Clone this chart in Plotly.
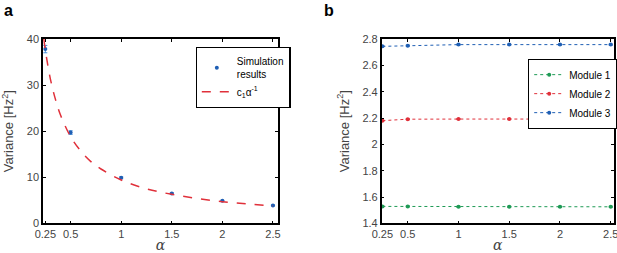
import plotly.graph_objects as go

# Panel a data
alpha = [0.25, 0.5, 1.0, 1.5, 2.0, 2.5]
sim_var = [37.8, 19.7, 9.9, 6.5, 4.9, 3.9]
sim_err = [0.8, 0.4, 0.2, 0.15, 0.1, 0.1]
fit_alpha = [0.235, 0.25, 0.3, 0.35, 0.4, 0.5, 0.6, 0.7, 0.8, 1.0, 1.25, 1.5, 1.75, 2.0, 2.25, 2.5]
fit_var = [40.0, 37.6, 31.3, 26.9, 23.5, 18.8, 15.7, 13.4, 11.8, 9.4, 7.5, 6.3, 5.4, 4.7, 4.2, 3.8]

# Panel b data
mod1 = [1.529, 1.529, 1.526, 1.526, 1.526, 1.526]
mod2 = [2.18, 2.191, 2.192, 2.192, 2.192, 2.192]
mod3 = [2.744, 2.749, 2.757, 2.757, 2.757, 2.757]
mod_err = [0.004, 0.004, 0.004, 0.004, 0.004, 0.004]

xticks = [0.25, 0.5, 1, 1.5, 2, 2.5]
xticktext = ["0.25", "0.5", "1", "1.5", "2", "2.5"]

BLUE = "#1f5fb4"
LBLUE = "#4a90d9"
RED = "#e0303a"
GREEN = "#1e9a55"
TICKC = "#444444"
FONT = "Liberation Sans, Arial"

fig = go.Figure()

fig.add_trace(go.Scatter(
    x=alpha, y=sim_var, mode="markers", name="Simulation<br>results",
    marker=dict(color=BLUE, size=4),
    error_y=dict(type="data", array=sim_err, color=LBLUE, thickness=1, width=2),
    xaxis="x", yaxis="y", legend="legend"))
fig.add_trace(go.Scatter(
    x=fit_alpha, y=fit_var, mode="lines", name="c<sub>1</sub>α<sup>-1</sup>",
    line=dict(color=RED, dash="dash", width=1.5, shape="spline"),
    xaxis="x", yaxis="y", legend="legend"))

for vals, col, nm in [(mod1, GREEN, "Module 1"), (mod2, RED, "Module 2"), (mod3, BLUE, "Module 3")]:
    fig.add_trace(go.Scatter(
        x=alpha, y=vals, mode="lines+markers", name=nm,
        line=dict(color=col, dash="dot", width=1),
        marker=dict(color=col, size=4),
        error_y=dict(type="data", array=mod_err, color=col, thickness=1, width=2),
        xaxis="x2", yaxis="y2", legend="legend2"))

axcommon = dict(showline=True, linecolor="black", linewidth=1.5, mirror="ticks",
                ticks="inside", ticklen=3, tickcolor="black", showgrid=False, automargin=False,
                zeroline=False, ticklabeloverflow="allow",
                tickfont=dict(family=FONT, size=11, color=TICKC))

xtitle = dict(text="<i>α</i>", font=dict(family="DejaVu Serif", size=14, color=TICKC), standoff=2)
ytitle = dict(text="Variance [Hz<sup>2</sup>]", font=dict(family=FONT, size=13, color=TICKC), standoff=10)

fig.update_layout(
    width=617, height=253, margin=dict(l=0, r=0, t=0, b=0, autoexpand=False),
    paper_bgcolor="white", plot_bgcolor="white", showlegend=True,
    xaxis=dict(domain=[0.0697, 0.4506], range=[0.227, 2.55], tickvals=xticks, ticktext=xticktext,
               title=xtitle, anchor="y", **axcommon),
    yaxis=dict(domain=[0.117, 0.846], range=[0, 40], tickvals=[0, 10, 20, 30, 40],
               title=ytitle, anchor="x", **axcommon),
    xaxis2=dict(domain=[0.6186, 0.9951], range=[0.243, 2.532], tickvals=xticks, ticktext=xticktext,
                title=xtitle, anchor="y2", **axcommon),
    yaxis2=dict(domain=[0.117, 0.846], range=[1.4, 2.8], tickvals=[1.4, 1.6, 1.8, 2.0, 2.2, 2.4, 2.6, 2.8],
                ticktext=["1.4", "1.6", "1.8", "2", "2.2", "2.4", "2.6", "2.8"],
                title=ytitle, anchor="x2", **axcommon),
    legend=dict(x=0.471, y=0.814, xanchor="right", yanchor="top", bgcolor="white",
                bordercolor="black", borderwidth=1.2, tracegroupgap=0, itemwidth=30,
                font=dict(family=FONT, size=10, color="black")),
    legend2=dict(x=1.0, y=0.767, xanchor="right", yanchor="top", bgcolor="white",
                 bordercolor="black", borderwidth=1.2, tracegroupgap=0, itemwidth=30,
                 font=dict(family=FONT, size=10, color="black")),
    annotations=[
        dict(text="<b>a</b>", x=0.003, y=1.0, xref="paper", yref="paper", xanchor="left", yanchor="top",
             showarrow=False, font=dict(family=FONT, size=16, color="black")),
        dict(text="<b>b</b>", x=0.522, y=1.0, xref="paper", yref="paper", xanchor="left", yanchor="top",
             showarrow=False, font=dict(family=FONT, size=16, color="black")),
    ],
)

fig.write_html("out.html", config={"displayModeBar": False},
               post_script="document.body.style.margin='0';document.body.style.padding='0';document.body.style.overflow='hidden';")
